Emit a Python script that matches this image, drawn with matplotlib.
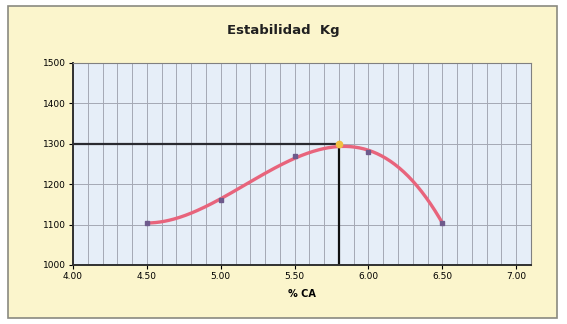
import numpy as np
import matplotlib.pyplot as plt
from matplotlib.patches import Rectangle

# datos
ca = [4.5, 5.0, 5.5, 6.0, 6.5]
estabilidad = [1105, 1160, 1270, 1280, 1105]
ca_opt = 5.8
est_opt = 1300
xticks = [4.0, 4.5, 5.0, 5.5, 6.0, 6.5, 7.0]
yticks = [1000, 1100, 1200, 1300, 1400, 1500]

fig = plt.figure(figsize=(5.67, 3.24), dpi=100)
fig.patch.set_facecolor("white")
fig.patches.append(Rectangle((8 / 567, 6 / 324), 549 / 567, 312 / 324,
                             transform=fig.transFigure, facecolor="#fbf5cc",
                             edgecolor="#8a8a80", linewidth=1.2, zorder=-10))

ax = fig.add_axes([73 / 567, 59 / 324, 458 / 567, 202 / 324])
ax.set_facecolor("#e6eef8")

# linea de tendencia polinomica
coef = np.polyfit(ca, estabilidad, 3)
xs = np.linspace(ca[0], ca[-1], 200)
ax.plot(xs, np.polyval(coef, xs), color="#e8647c", linewidth=2.4, zorder=3)

ax.plot(ca, estabilidad, "s", color="#6e5a8c", markersize=3.5, zorder=4)
ax.plot([4.0, ca_opt], [est_opt, est_opt], color="#2a2a30", linewidth=1.6, zorder=2)
ax.plot([ca_opt, ca_opt], [1000, est_opt], color="#101010", linewidth=1.6, zorder=2)
ax.plot([ca_opt], [est_opt], "o", color="#f2c040", markersize=4.5, zorder=5)

ax.set_xlim(4.0, 7.1)
ax.set_ylim(1000, 1500)
ax.set_xticks(xticks)
ax.set_xticklabels([f"{v:.2f}" for v in xticks])
ax.set_yticks(yticks)
ax.set_xticks(np.arange(4.0, 7.11, 0.1), minor=True)
ax.grid(which="major", axis="y", color="#a4a8b4", linewidth=0.7)
ax.grid(which="both", axis="x", color="#a4a8b4", linewidth=0.7)
ax.set_axisbelow(True)
ax.tick_params(axis="both", which="major", labelsize=6.5, length=3, width=0.8, pad=2)
ax.tick_params(axis="x", which="minor", length=0)

for s in ["left", "bottom"]:
    ax.spines[s].set_color("#303030")
    ax.spines[s].set_linewidth(1.4)
for s in ["top", "right"]:
    ax.spines[s].set_color("#808080")
    ax.spines[s].set_linewidth(0.8)

ax.set_xlabel("% CA", fontsize=7, fontweight="bold", labelpad=6)
fig.text(0.5, 0.905, "Estabilidad  Kg", ha="center", va="center",
         fontsize=9.5, fontweight="bold", color="#202020")

fig.savefig("out.png", dpi=100)
